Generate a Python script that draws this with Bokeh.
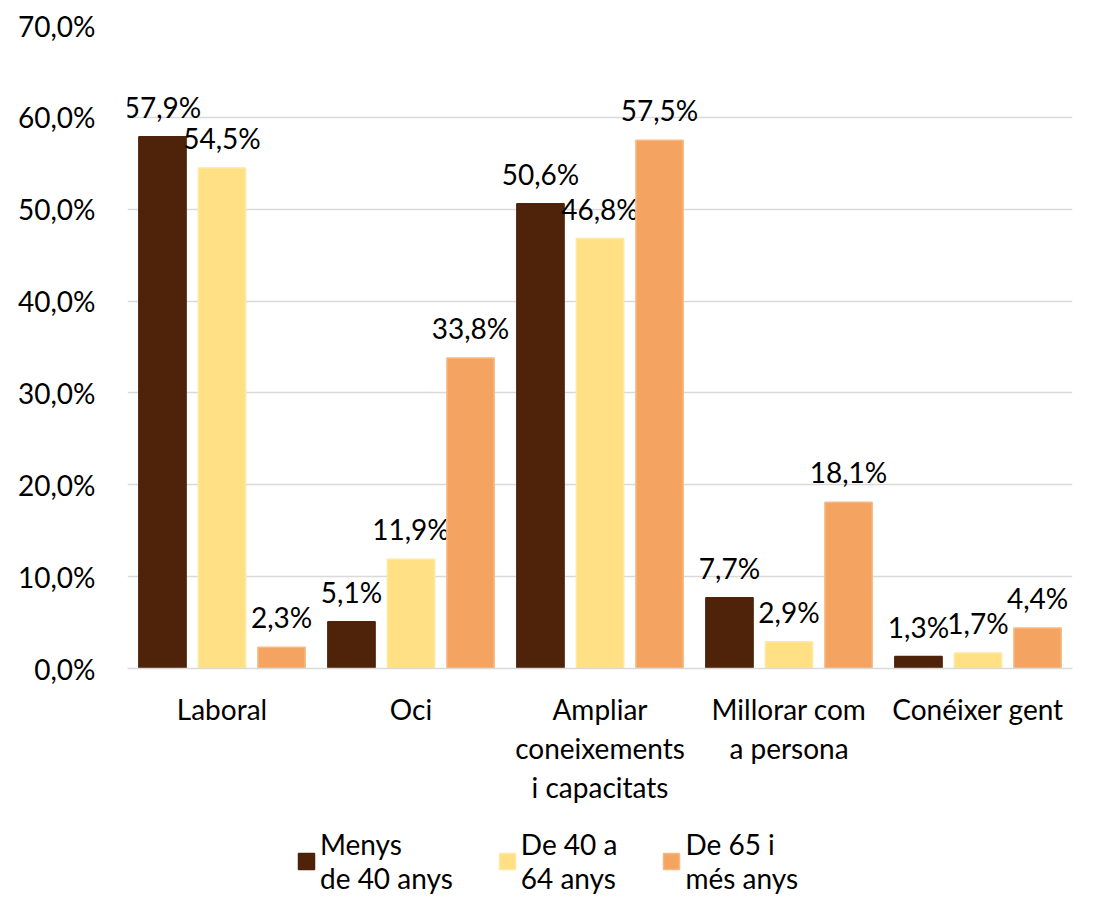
from bokeh.plotting import figure
from bokeh.layouts import column
from bokeh.models import ColumnDataSource, FactorRange, FixedTicker, Range1d, Legend, LegendItem
from bokeh.transform import dodge
from bokeh.core.properties import value
from bokeh.embed import file_html
from bokeh.resources import INLINE

categories = ["Laboral", "Oci", "Ampliar\nconeixements\ni capacitats", "Millorar com\na persona", "Conéixer gent"]
series_names = ["Menys\nde 40 anys", "De 40 a\n64 anys", "De 65 i\nmés anys"]
menys_40 = [57.9, 5.1, 50.6, 7.7, 1.3]
de_40_64 = [54.5, 11.9, 46.8, 2.9, 1.7]
de_65 = [2.3, 33.8, 57.5, 18.1, 4.4]
y_ticks = [0, 10, 20, 30, 40, 50, 60, 70]
y_tick_labels = ["0,0%", "10,0%", "20,0%", "30,0%", "40,0%", "50,0%", "60,0%", "70,0%"]

colors = ["#4E2309", "#FFE085", "#F4A460"]
borders = ["#4E2309", "#FFE8A0", "#F7B982"]
FONT = "Lato"
FS = "28px"


def fmt(v):
    return ("%.1f%%" % v).replace(".", ",")


data = dict(cat=categories)
series = [menys_40, de_40_64, de_65]
for i, s in enumerate(series):
    data["s%d" % i] = s
    data["l%d" % i] = [fmt(v) for v in s]
src = ColumnDataSource(data)

p = figure(width=1086, height=820, x_range=FactorRange(*categories), y_range=Range1d(0, 70),
           output_backend="svg", toolbar_location=None,
           min_border_left=127, min_border_right=14, min_border_top=25, min_border_bottom=152)
p.outline_line_color = None
p.background_fill_color = "white"

offsets = [-0.315, 0.0, 0.315]
for i in range(3):
    p.vbar(x=dodge("cat", offsets[i], range=p.x_range), top="s%d" % i, width=0.25, source=src,
           fill_color=colors[i], line_color=borders[i], line_width=1.5)
    p.text(x=dodge("cat", offsets[i], range=p.x_range), y="s%d" % i, text="l%d" % i, source=src,
           text_font=value(FONT), text_font_size=FS, text_align="center", text_baseline="bottom",
           text_color="#000000", y_offset=-13)

p.ygrid.grid_line_color = "#D9D9D9"
p.ygrid.grid_line_width = 1.5
p.ygrid.ticker = FixedTicker(ticks=y_ticks)
p.xgrid.grid_line_color = None

p.yaxis.ticker = FixedTicker(ticks=y_ticks)
p.yaxis.major_label_overrides = {t: l for t, l in zip(y_ticks, y_tick_labels)}
p.yaxis.axis_line_color = None
p.yaxis.major_tick_line_color = None
p.yaxis.minor_tick_line_color = None
p.yaxis.major_tick_out = 0
p.yaxis.major_tick_in = 0
p.yaxis.major_label_text_font = FONT
p.yaxis.major_label_text_font_size = FS
p.yaxis.major_label_text_color = "#000000"
p.yaxis.major_label_standoff = 32

p.xaxis.axis_line_color = "#D9D9D9"
p.xaxis.axis_line_width = 1.5
p.xaxis.major_tick_line_color = None
p.xaxis.minor_tick_line_color = None
p.xaxis.major_tick_out = 0
p.xaxis.major_tick_in = 0
p.xaxis.major_label_text_font = FONT
p.xaxis.major_label_text_font_size = FS
p.xaxis.major_label_text_color = "#000000"
p.xaxis.major_label_text_line_height = 1.16
p.xaxis.major_label_standoff = 23

# legend strip (swatch renderers hold no drawable data)
lg = figure(width=1086, height=75, x_range=Range1d(0, 1), y_range=Range1d(0, 1),
            output_backend="svg", toolbar_location=None,
            min_border_left=0, min_border_right=0, min_border_top=0, min_border_bottom=0)
lg.outline_line_color = None
lg.axis.visible = False
lg.grid.visible = False
hidden = ColumnDataSource(dict(x=[float("nan")], top=[float("nan")]))
items = []
for i in range(3):
    r = lg.vbar(x="x", top="top", width=0.1, source=hidden, fill_color=colors[i], line_color=borders[i],
                line_width=1.5)
    items.append(LegendItem(label=series_names[i], renderers=[r]))

legend = Legend(items=items, orientation="horizontal", location=(169, 0),
                label_text_font=FONT, label_text_font_size=FS, label_text_color="#000000",
                label_text_line_height=1.2,
                glyph_width=20, glyph_height=20, label_standoff=4, spacing=44,
                padding=0, margin=0, border_line_color=None, background_fill_alpha=0)
lg.add_layout(legend, "center")

layout = column(p, lg, spacing=0)
open("out.html", "w").write(file_html(layout, INLINE))
